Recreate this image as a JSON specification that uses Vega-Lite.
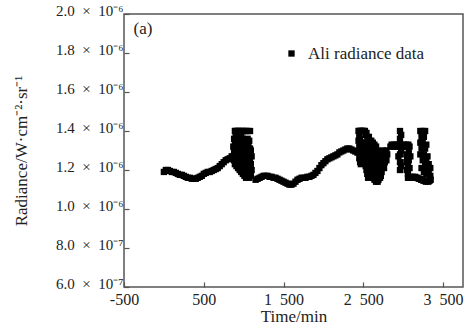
{
  "$schema": "https://vega.github.io/schema/vega-lite/v6.json",
  "width": 339,
  "height": 273,
  "autosize": {"type": "none"},
  "padding": {"left": 124, "top": 14, "right": 12, "bottom": 47},
  "background": "white",
  "config": {
    "view": {"stroke": "#555", "strokeWidth": 1.5},
    "font": "Liberation Serif",
    "axis": {"labelFont": "Liberation Serif", "titleFont": "Liberation Serif", "labelColor": "#222", "titleColor": "#222", "titleFontWeight": "normal", "grid": false, "domain": false, "tickColor": "#555", "tickSize": -5, "tickWidth": 1.2, "labelBound": false, "labelFlush": false}
  },
  "datasets": {
    "ali": [
      {"t": 0, "radiance": 1.19e-6}, {"t": 25, "radiance": 1.20e-6}, {"t": 50, "radiance": 1.20e-6}, {"t": 75, "radiance": 1.195e-6}, {"t": 100, "radiance": 1.19e-6},
      {"t": 125, "radiance": 1.19e-6}, {"t": 150, "radiance": 1.185e-6}, {"t": 175, "radiance": 1.18e-6}, {"t": 200, "radiance": 1.175e-6}, {"t": 225, "radiance": 1.175e-6},
      {"t": 250, "radiance": 1.17e-6}, {"t": 275, "radiance": 1.165e-6}, {"t": 300, "radiance": 1.16e-6}, {"t": 325, "radiance": 1.16e-6}, {"t": 350, "radiance": 1.155e-6},
      {"t": 375, "radiance": 1.155e-6}, {"t": 400, "radiance": 1.155e-6}, {"t": 425, "radiance": 1.16e-6}, {"t": 450, "radiance": 1.165e-6}, {"t": 475, "radiance": 1.17e-6},
      {"t": 500, "radiance": 1.18e-6}, {"t": 525, "radiance": 1.185e-6}, {"t": 550, "radiance": 1.19e-6}, {"t": 575, "radiance": 1.19e-6}, {"t": 600, "radiance": 1.195e-6},
      {"t": 625, "radiance": 1.20e-6}, {"t": 650, "radiance": 1.205e-6}, {"t": 675, "radiance": 1.21e-6}, {"t": 700, "radiance": 1.22e-6}, {"t": 725, "radiance": 1.23e-6},
      {"t": 750, "radiance": 1.24e-6}, {"t": 775, "radiance": 1.25e-6}, {"t": 800, "radiance": 1.255e-6}, {"t": 825, "radiance": 1.26e-6}, {"t": 850, "radiance": 1.27e-6},
      {"t": 870, "radiance": 1.27e-6}, {"t": 870, "radiance": 1.32e-6},
      {"t": 880, "radiance": 1.25e-6}, {"t": 880, "radiance": 1.30e-6}, {"t": 880, "radiance": 1.36e-6},
      {"t": 890, "radiance": 1.23e-6}, {"t": 890, "radiance": 1.29e-6}, {"t": 890, "radiance": 1.34e-6}, {"t": 890, "radiance": 1.40e-6},
      {"t": 900, "radiance": 1.26e-6}, {"t": 900, "radiance": 1.32e-6}, {"t": 900, "radiance": 1.38e-6}, {"t": 900, "radiance": 1.40e-6},
      {"t": 910, "radiance": 1.22e-6}, {"t": 910, "radiance": 1.28e-6}, {"t": 910, "radiance": 1.35e-6}, {"t": 910, "radiance": 1.40e-6},
      {"t": 920, "radiance": 1.25e-6}, {"t": 920, "radiance": 1.31e-6}, {"t": 920, "radiance": 1.37e-6},
      {"t": 930, "radiance": 1.21e-6}, {"t": 930, "radiance": 1.27e-6}, {"t": 930, "radiance": 1.34e-6}, {"t": 930, "radiance": 1.40e-6},
      {"t": 940, "radiance": 1.24e-6}, {"t": 940, "radiance": 1.30e-6}, {"t": 940, "radiance": 1.36e-6}, {"t": 940, "radiance": 1.40e-6},
      {"t": 950, "radiance": 1.20e-6}, {"t": 950, "radiance": 1.26e-6}, {"t": 950, "radiance": 1.33e-6}, {"t": 950, "radiance": 1.39e-6},
      {"t": 960, "radiance": 1.23e-6}, {"t": 960, "radiance": 1.29e-6}, {"t": 960, "radiance": 1.35e-6}, {"t": 960, "radiance": 1.40e-6},
      {"t": 970, "radiance": 1.19e-6}, {"t": 970, "radiance": 1.25e-6}, {"t": 970, "radiance": 1.32e-6}, {"t": 970, "radiance": 1.38e-6},
      {"t": 980, "radiance": 1.22e-6}, {"t": 980, "radiance": 1.28e-6}, {"t": 980, "radiance": 1.34e-6}, {"t": 980, "radiance": 1.40e-6},
      {"t": 990, "radiance": 1.18e-6}, {"t": 990, "radiance": 1.24e-6}, {"t": 990, "radiance": 1.30e-6}, {"t": 990, "radiance": 1.36e-6}, {"t": 990, "radiance": 1.40e-6},
      {"t": 1000, "radiance": 1.21e-6}, {"t": 1000, "radiance": 1.27e-6}, {"t": 1000, "radiance": 1.33e-6},
      {"t": 1010, "radiance": 1.17e-6}, {"t": 1010, "radiance": 1.23e-6}, {"t": 1010, "radiance": 1.29e-6}, {"t": 1010, "radiance": 1.35e-6}, {"t": 1010, "radiance": 1.40e-6},
      {"t": 1020, "radiance": 1.20e-6}, {"t": 1020, "radiance": 1.26e-6}, {"t": 1020, "radiance": 1.32e-6},
      {"t": 1030, "radiance": 1.16e-6}, {"t": 1030, "radiance": 1.22e-6}, {"t": 1030, "radiance": 1.28e-6}, {"t": 1030, "radiance": 1.34e-6}, {"t": 1030, "radiance": 1.40e-6},
      {"t": 1040, "radiance": 1.19e-6}, {"t": 1040, "radiance": 1.25e-6}, {"t": 1040, "radiance": 1.31e-6},
      {"t": 1050, "radiance": 1.17e-6}, {"t": 1050, "radiance": 1.23e-6}, {"t": 1050, "radiance": 1.29e-6}, {"t": 1050, "radiance": 1.36e-6}, {"t": 1050, "radiance": 1.40e-6},
      {"t": 1060, "radiance": 1.20e-6}, {"t": 1060, "radiance": 1.26e-6}, {"t": 1060, "radiance": 1.33e-6},
      {"t": 1070, "radiance": 1.16e-6}, {"t": 1070, "radiance": 1.22e-6}, {"t": 1070, "radiance": 1.28e-6}, {"t": 1070, "radiance": 1.35e-6},
      {"t": 1080, "radiance": 1.19e-6}, {"t": 1080, "radiance": 1.25e-6}, {"t": 1080, "radiance": 1.31e-6}, {"t": 1080, "radiance": 1.40e-6},
      {"t": 1090, "radiance": 1.17e-6}, {"t": 1090, "radiance": 1.23e-6}, {"t": 1090, "radiance": 1.30e-6},
      {"t": 1100, "radiance": 1.20e-6}, {"t": 1100, "radiance": 1.27e-6},
      {"t": 1150, "radiance": 1.15e-6}, {"t": 1175, "radiance": 1.155e-6}, {"t": 1200, "radiance": 1.16e-6}, {"t": 1225, "radiance": 1.165e-6}, {"t": 1250, "radiance": 1.17e-6},
      {"t": 1275, "radiance": 1.17e-6}, {"t": 1300, "radiance": 1.17e-6}, {"t": 1325, "radiance": 1.165e-6}, {"t": 1350, "radiance": 1.165e-6}, {"t": 1375, "radiance": 1.16e-6},
      {"t": 1400, "radiance": 1.16e-6}, {"t": 1425, "radiance": 1.155e-6}, {"t": 1450, "radiance": 1.15e-6}, {"t": 1475, "radiance": 1.145e-6}, {"t": 1500, "radiance": 1.14e-6},
      {"t": 1525, "radiance": 1.135e-6}, {"t": 1550, "radiance": 1.13e-6}, {"t": 1575, "radiance": 1.125e-6}, {"t": 1600, "radiance": 1.125e-6}, {"t": 1625, "radiance": 1.13e-6},
      {"t": 1650, "radiance": 1.14e-6}, {"t": 1675, "radiance": 1.15e-6}, {"t": 1700, "radiance": 1.155e-6}, {"t": 1725, "radiance": 1.16e-6}, {"t": 1750, "radiance": 1.16e-6},
      {"t": 1775, "radiance": 1.16e-6}, {"t": 1800, "radiance": 1.165e-6}, {"t": 1825, "radiance": 1.165e-6}, {"t": 1850, "radiance": 1.17e-6}, {"t": 1875, "radiance": 1.175e-6},
      {"t": 1900, "radiance": 1.185e-6}, {"t": 1925, "radiance": 1.195e-6}, {"t": 1950, "radiance": 1.21e-6}, {"t": 1975, "radiance": 1.225e-6}, {"t": 2000, "radiance": 1.235e-6},
      {"t": 2025, "radiance": 1.245e-6}, {"t": 2050, "radiance": 1.255e-6}, {"t": 2075, "radiance": 1.26e-6}, {"t": 2100, "radiance": 1.265e-6}, {"t": 2125, "radiance": 1.27e-6},
      {"t": 2150, "radiance": 1.275e-6}, {"t": 2175, "radiance": 1.28e-6}, {"t": 2200, "radiance": 1.29e-6}, {"t": 2225, "radiance": 1.295e-6}, {"t": 2250, "radiance": 1.30e-6},
      {"t": 2275, "radiance": 1.305e-6}, {"t": 2300, "radiance": 1.31e-6}, {"t": 2325, "radiance": 1.31e-6}, {"t": 2350, "radiance": 1.305e-6}, {"t": 2375, "radiance": 1.30e-6},
      {"t": 2400, "radiance": 1.295e-6}, {"t": 2425, "radiance": 1.29e-6},
      {"t": 2440, "radiance": 1.29e-6}, {"t": 2440, "radiance": 1.35e-6}, {"t": 2440, "radiance": 1.40e-6},
      {"t": 2450, "radiance": 1.26e-6}, {"t": 2450, "radiance": 1.32e-6}, {"t": 2450, "radiance": 1.38e-6}, {"t": 2450, "radiance": 1.40e-6},
      {"t": 2460, "radiance": 1.24e-6}, {"t": 2460, "radiance": 1.30e-6}, {"t": 2460, "radiance": 1.36e-6}, {"t": 2460, "radiance": 1.40e-6},
      {"t": 2470, "radiance": 1.23e-6}, {"t": 2470, "radiance": 1.28e-6}, {"t": 2470, "radiance": 1.34e-6}, {"t": 2470, "radiance": 1.40e-6},
      {"t": 2480, "radiance": 1.26e-6}, {"t": 2480, "radiance": 1.32e-6}, {"t": 2480, "radiance": 1.40e-6},
      {"t": 2490, "radiance": 1.40e-6}, {"t": 2500, "radiance": 1.40e-6}, {"t": 2500, "radiance": 1.30e-6},
      {"t": 2510, "radiance": 1.40e-6}, {"t": 2510, "radiance": 1.25e-6}, {"t": 2520, "radiance": 1.40e-6}, {"t": 2520, "radiance": 1.34e-6},
      {"t": 2530, "radiance": 1.38e-6}, {"t": 2530, "radiance": 1.28e-6}, {"t": 2530, "radiance": 1.22e-6},
      {"t": 2540, "radiance": 1.39e-6}, {"t": 2540, "radiance": 1.33e-6}, {"t": 2540, "radiance": 1.26e-6}, {"t": 2540, "radiance": 1.20e-6},
      {"t": 2550, "radiance": 1.36e-6}, {"t": 2550, "radiance": 1.30e-6}, {"t": 2550, "radiance": 1.24e-6}, {"t": 2550, "radiance": 1.18e-6},
      {"t": 2560, "radiance": 1.34e-6}, {"t": 2560, "radiance": 1.28e-6}, {"t": 2560, "radiance": 1.22e-6}, {"t": 2560, "radiance": 1.16e-6},
      {"t": 2570, "radiance": 1.37e-6}, {"t": 2570, "radiance": 1.31e-6}, {"t": 2570, "radiance": 1.25e-6}, {"t": 2570, "radiance": 1.19e-6},
      {"t": 2580, "radiance": 1.35e-6}, {"t": 2580, "radiance": 1.29e-6}, {"t": 2580, "radiance": 1.23e-6}, {"t": 2580, "radiance": 1.17e-6},
      {"t": 2590, "radiance": 1.33e-6}, {"t": 2590, "radiance": 1.27e-6}, {"t": 2590, "radiance": 1.21e-6},
      {"t": 2600, "radiance": 1.35e-6}, {"t": 2600, "radiance": 1.29e-6}, {"t": 2600, "radiance": 1.24e-6}, {"t": 2600, "radiance": 1.18e-6},
      {"t": 2610, "radiance": 1.32e-6}, {"t": 2610, "radiance": 1.26e-6}, {"t": 2610, "radiance": 1.20e-6},
      {"t": 2620, "radiance": 1.34e-6}, {"t": 2620, "radiance": 1.28e-6}, {"t": 2620, "radiance": 1.22e-6}, {"t": 2620, "radiance": 1.16e-6},
      {"t": 2630, "radiance": 1.30e-6}, {"t": 2630, "radiance": 1.24e-6}, {"t": 2630, "radiance": 1.18e-6},
      {"t": 2640, "radiance": 1.33e-6}, {"t": 2640, "radiance": 1.27e-6}, {"t": 2640, "radiance": 1.21e-6}, {"t": 2640, "radiance": 1.15e-6},
      {"t": 2650, "radiance": 1.29e-6}, {"t": 2650, "radiance": 1.23e-6}, {"t": 2650, "radiance": 1.17e-6},
      {"t": 2660, "radiance": 1.32e-6}, {"t": 2660, "radiance": 1.26e-6}, {"t": 2660, "radiance": 1.20e-6}, {"t": 2660, "radiance": 1.14e-6},
      {"t": 2670, "radiance": 1.28e-6}, {"t": 2670, "radiance": 1.22e-6}, {"t": 2670, "radiance": 1.16e-6},
      {"t": 2680, "radiance": 1.30e-6}, {"t": 2680, "radiance": 1.24e-6}, {"t": 2680, "radiance": 1.18e-6}, {"t": 2680, "radiance": 1.14e-6},
      {"t": 2690, "radiance": 1.27e-6}, {"t": 2690, "radiance": 1.21e-6}, {"t": 2690, "radiance": 1.15e-6},
      {"t": 2700, "radiance": 1.29e-6}, {"t": 2700, "radiance": 1.23e-6}, {"t": 2700, "radiance": 1.17e-6},
      {"t": 2710, "radiance": 1.26e-6}, {"t": 2710, "radiance": 1.20e-6}, {"t": 2710, "radiance": 1.16e-6},
      {"t": 2720, "radiance": 1.28e-6}, {"t": 2720, "radiance": 1.22e-6}, {"t": 2720, "radiance": 1.17e-6},
      {"t": 2730, "radiance": 1.25e-6}, {"t": 2730, "radiance": 1.19e-6},
      {"t": 2740, "radiance": 1.27e-6}, {"t": 2740, "radiance": 1.22e-6},
      {"t": 2750, "radiance": 1.30e-6}, {"t": 2750, "radiance": 1.24e-6},
      {"t": 2760, "radiance": 1.26e-6}, {"t": 2760, "radiance": 1.21e-6},
      {"t": 2770, "radiance": 1.29e-6}, {"t": 2770, "radiance": 1.24e-6},
      {"t": 2780, "radiance": 1.27e-6}, {"t": 2790, "radiance": 1.30e-6}, {"t": 2790, "radiance": 1.25e-6}, {"t": 2800, "radiance": 1.28e-6},
      {"t": 2840, "radiance": 1.32e-6}, {"t": 2855, "radiance": 1.33e-6}, {"t": 2870, "radiance": 1.32e-6}, {"t": 2885, "radiance": 1.33e-6}, {"t": 2900, "radiance": 1.32e-6},
      {"t": 2915, "radiance": 1.33e-6}, {"t": 2930, "radiance": 1.32e-6}, {"t": 2945, "radiance": 1.33e-6}, {"t": 2940, "radiance": 1.27e-6},
      {"t": 2960, "radiance": 1.20e-6}, {"t": 2960, "radiance": 1.24e-6}, {"t": 2960, "radiance": 1.28e-6}, {"t": 2960, "radiance": 1.32e-6}, {"t": 2960, "radiance": 1.36e-6}, {"t": 2960, "radiance": 1.40e-6},
      {"t": 2975, "radiance": 1.22e-6}, {"t": 2975, "radiance": 1.30e-6}, {"t": 2975, "radiance": 1.38e-6},
      {"t": 2990, "radiance": 1.32e-6}, {"t": 3005, "radiance": 1.33e-6}, {"t": 3020, "radiance": 1.32e-6}, {"t": 3035, "radiance": 1.33e-6}, {"t": 3050, "radiance": 1.32e-6},
      {"t": 3065, "radiance": 1.33e-6}, {"t": 3080, "radiance": 1.32e-6},
      {"t": 3040, "radiance": 1.28e-6}, {"t": 3040, "radiance": 1.24e-6}, {"t": 3045, "radiance": 1.20e-6}, {"t": 3050, "radiance": 1.26e-6},
      {"t": 3060, "radiance": 1.22e-6}, {"t": 3060, "radiance": 1.18e-6}, {"t": 3070, "radiance": 1.29e-6}, {"t": 3070, "radiance": 1.25e-6},
      {"t": 3080, "radiance": 1.21e-6}, {"t": 3090, "radiance": 1.27e-6},
      {"t": 3060, "radiance": 1.16e-6}, {"t": 3075, "radiance": 1.16e-6}, {"t": 3090, "radiance": 1.165e-6}, {"t": 3105, "radiance": 1.16e-6}, {"t": 3120, "radiance": 1.165e-6},
      {"t": 3135, "radiance": 1.16e-6}, {"t": 3150, "radiance": 1.165e-6}, {"t": 3165, "radiance": 1.16e-6}, {"t": 3180, "radiance": 1.16e-6},
      {"t": 3195, "radiance": 1.155e-6}, {"t": 3210, "radiance": 1.155e-6}, {"t": 3225, "radiance": 1.15e-6}, {"t": 3240, "radiance": 1.15e-6}, {"t": 3255, "radiance": 1.145e-6},
      {"t": 3270, "radiance": 1.145e-6}, {"t": 3285, "radiance": 1.14e-6}, {"t": 3300, "radiance": 1.145e-6}, {"t": 3315, "radiance": 1.14e-6}, {"t": 3330, "radiance": 1.145e-6}, {"t": 3345, "radiance": 1.15e-6},
      {"t": 3215, "radiance": 1.40e-6}, {"t": 3215, "radiance": 1.34e-6}, {"t": 3215, "radiance": 1.28e-6},
      {"t": 3230, "radiance": 1.21e-6}, {"t": 3230, "radiance": 1.31e-6}, {"t": 3230, "radiance": 1.37e-6},
      {"t": 3245, "radiance": 1.25e-6}, {"t": 3245, "radiance": 1.34e-6}, {"t": 3245, "radiance": 1.40e-6},
      {"t": 3260, "radiance": 1.19e-6}, {"t": 3260, "radiance": 1.28e-6}, {"t": 3260, "radiance": 1.37e-6},
      {"t": 3275, "radiance": 1.22e-6}, {"t": 3275, "radiance": 1.31e-6}, {"t": 3275, "radiance": 1.40e-6},
      {"t": 3290, "radiance": 1.18e-6}, {"t": 3290, "radiance": 1.25e-6}, {"t": 3290, "radiance": 1.33e-6},
      {"t": 3305, "radiance": 1.20e-6}, {"t": 3305, "radiance": 1.27e-6},
      {"t": 3320, "radiance": 1.18e-6}, {"t": 3320, "radiance": 1.23e-6},
      {"t": 3340, "radiance": 1.17e-6}, {"t": 3340, "radiance": 1.21e-6}
    ],
    "panel": [{"t": -262, "radiance": 1.923e-6, "label": "(a)"}]
  },
  "layer": [
    {
      "data": {"name": "ali"},
      "mark": {"type": "point", "shape": "square", "filled": true, "size": 40, "opacity": 1},
      "encoding": {
        "x": {
          "field": "t", "type": "quantitative",
          "scale": {"domain": [-500, 3750], "nice": false, "zero": false},
          "axis": {
            "values": [-500, 500, 1500, 2500, 3500], "tickCount": 10, "labelOverlap": false,
            "title": "Time/min", "titleFontSize": 17, "labelFontSize": 16, "labelPadding": 9, "titlePadding": 1,
            "labelExpr": "datum.value < 0 ? '-' + format(-datum.value, 'd') : replace(format(datum.value, ','), ',', '\u2002')"
          }
        },
        "y": {
          "field": "radiance", "type": "quantitative",
          "scale": {"domain": [6e-7, 2e-6], "nice": false, "zero": false},
          "axis": {
            "values": [6e-7, 8e-7, 1e-6, 1.2e-6, 1.4e-6, 1.6e-6, 1.8e-6, 2e-6], "tickCount": 12, "labelOverlap": false,
            "title": "Radiance/W·cm⁻²·sr⁻¹", "titleFontSize": 17, "labelFontSize": 15, "labelPadding": 6, "titlePadding": 25, "labelOffset": -4,
            "labelExpr": "datum.value >= 0.99e-6 ? format(datum.value * 1e6, '.1f') + '\u2002×\u200210⁻⁶' : format(datum.value * 1e7, '.1f') + '\u2002×\u200210⁻⁷'"
          }
        },
        "color": {
          "datum": "Ali radiance data",
          "scale": {"range": ["black"]},
          "legend": {
            "title": null, "orient": "none", "legendX": 159, "legendY": 31,
            "labelFont": "Liberation Serif", "labelFontSize": 17, "labelColor": "#222",
            "symbolType": "square", "symbolSize": 40, "symbolFillColor": "black", "symbolStrokeWidth": 0, "labelOffset": 8
          }
        }
      }
    },
    {
      "data": {"name": "panel"},
      "mark": {"type": "text", "font": "Liberation Serif", "fontSize": 17, "color": "#222", "align": "center", "baseline": "middle"},
      "encoding": {
        "x": {"field": "t", "type": "quantitative"},
        "y": {"field": "radiance", "type": "quantitative"},
        "text": {"field": "label"}
      }
    }
  ]
}
